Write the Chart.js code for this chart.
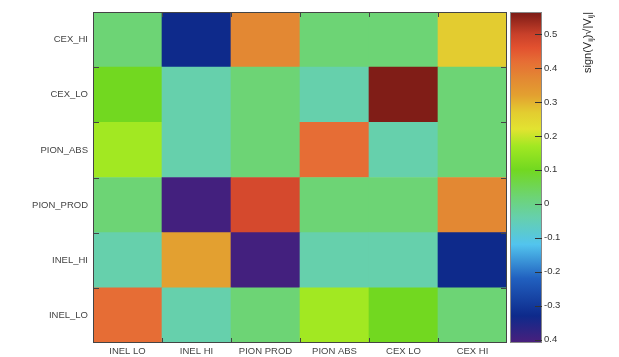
<!DOCTYPE html>
<html>
<head>
<meta charset="utf-8">
<script src="https://cdn.jsdelivr.net/npm/chart.js@4.4.1/dist/chart.umd.min.js"></script>
<style>
  html, body { margin: 0; padding: 0; background: #fff; }
  #wrap { width: 619px; height: 357px; }
</style>
</head>
<body>
<div id="wrap"><canvas id="matrix" width="619" height="357"></canvas></div>
<script>
// columns (x) and rows (y, bottom to top)
const xLabels = ["INEL LO", "INEL HI", "PION PROD", "PION ABS", "CEX LO", "CEX HI"];
const yLabels = ["INEL_LO", "INEL_HI", "PION_PROD", "PION_ABS", "CEX_LO", "CEX_HI"];

// cell values, one array per row
const rowInelLo   = [0.42, -0.04, 0.02, 0.17, 0.10, 0.02];
const rowInelHi   = [-0.04, 0.32, -0.40, -0.04, -0.04, -0.33];
const rowPionProd = [0.02, -0.40, 0.48, 0.02, 0.02, 0.37];
const rowPionAbs  = [0.17, -0.04, 0.02, 0.42, -0.04, 0.02];
const rowCexLo    = [0.10, -0.04, 0.02, -0.04, 0.56, 0.02];
const rowCexHi    = [0.02, -0.33, 0.37, 0.02, 0.02, 0.27];
const rows = [rowInelLo, rowInelHi, rowPionProd, rowPionAbs, rowCexLo, rowCexHi];

// colour bar
const zMin = -0.41, zMax = 0.565;
const zTicks = [0.5, 0.4, 0.3, 0.2, 0.1, 0, -0.1, -0.2, -0.3, -0.4];
const zTickLabels = ["0.5", "0.4", "0.3", "0.2", "0.1", "0", "-0.1", "-0.2", "-0.3", "0.4"];

// palette stops [value, colour]
const palette = [
    [-0.41, "#4a1f7c"], [-0.33, "#0e2a8b"], [-0.22, "#2160bf"], [-0.12, "#52c4ee"],
    [-0.04, "#66d0ac"], [0.02, "#6dd475"], [0.10, "#72d820"], [0.17, "#a2e822"],
    [0.22, "#e2e331"], [0.27, "#e3cc30"], [0.32, "#e3a030"], [0.37, "#e38833"],
    [0.42, "#e66d35"], [0.46, "#e2512f"], [0.50, "#c8402a"], [0.565, "#7a1a15"],
];

const labelFont = { size: 9.5, family: "'Liberation Sans', Arial" };

function hexRgb(h) {
    return [parseInt(h.slice(1, 3), 16), parseInt(h.slice(3, 5), 16), parseInt(h.slice(5, 7), 16)];
}

function colorFor(v) {
    if (v <= palette[0][0]) return palette[0][1];
    for (let i = 1; i < palette.length; i++) {
        if (v <= palette[i][0]) {
            const [v0, c0] = palette[i - 1], [v1, c1] = palette[i];
            const t = (v - v0) / (v1 - v0);
            const a = hexRgb(c0), b = hexRgb(c1);
            const m = a.map((x, k) => Math.round(x + (b[k] - x) * t));
            return `rgb(${m[0]},${m[1]},${m[2]})`;
        }
    }
    return palette[palette.length - 1][1];
}

// no extra label padding, so the plot fills the box set by afterFit
function noPad(s) {
    s.paddingTop = 0; s.paddingBottom = 0; s.paddingLeft = 0; s.paddingRight = 0;
}

// frame, tick marks, colour bar and its title
const decorPlugin = {
    id: "decor",
    afterDraw(chart) {
        const ctx = chart.ctx;
        const a = chart.chartArea;
        const x = chart.scales.x, y = chart.scales.y, z = chart.scales.z;
        ctx.save();
        ctx.strokeStyle = "#444";
        ctx.lineWidth = 1;
        ctx.strokeRect(a.left + 0.5, a.top + 0.5, a.right - a.left - 1, a.bottom - a.top - 1);

        ctx.beginPath();
        for (let i = 1; i < xLabels.length; i++) {
            const px = Math.round((x.getPixelForValue(i - 1) + x.getPixelForValue(i)) / 2) + 0.5;
            ctx.moveTo(px, a.bottom); ctx.lineTo(px, a.bottom - 5);
            ctx.moveTo(px, a.top); ctx.lineTo(px, a.top + 5);
        }
        for (let i = 1; i < yLabels.length; i++) {
            const py = Math.round(y.getPixelForValue(i)) + 0.5;
            ctx.moveTo(a.left, py); ctx.lineTo(a.left + 6, py);
            ctx.moveTo(a.right, py); ctx.lineTo(a.right - 6, py);
        }
        ctx.stroke();

        // colour bar
        const bx0 = a.right + 3, bx1 = a.right + 35;
        const top = z.getPixelForValue(zMax), bot = z.getPixelForValue(zMin);
        const grad = ctx.createLinearGradient(0, bot, 0, top);
        palette.forEach(([v, c]) => grad.addColorStop((v - zMin) / (zMax - zMin), c));
        ctx.fillStyle = grad;
        ctx.fillRect(bx0, top, bx1 - bx0, bot - top);
        ctx.strokeStyle = "#888";
        ctx.strokeRect(bx0 + 0.5, top + 0.5, bx1 - bx0 - 1, bot - top - 1);
        ctx.strokeStyle = "#333";
        ctx.beginPath();
        zTicks.forEach(v => {
            const py = Math.round(z.getPixelForValue(v)) + 0.5;
            ctx.moveTo(bx1, py); ctx.lineTo(bx1 - 7, py);
        });
        ctx.stroke();

        // title, rotated, ending at the top of the bar
        const parts = [["sign(V", false], ["ij", true], [")\u221A|V", false], ["ij", true], ["|", false]];
        const big = "11px 'Liberation Sans', Arial, sans-serif";
        const small = "8px 'Liberation Sans', Arial, sans-serif";
        let total = 0;
        parts.forEach(([t, sub]) => { ctx.font = sub ? small : big; total += ctx.measureText(t).width; });
        ctx.translate(588, top);
        ctx.rotate(-Math.PI / 2);
        ctx.fillStyle = "#222";
        ctx.textBaseline = "middle";
        let cx = -total;
        parts.forEach(([t, sub]) => {
            ctx.font = sub ? small : big;
            ctx.fillText(t, cx, sub ? 3 : 0);
            cx += ctx.measureText(t).width;
        });
        ctx.restore();
    }
};

new Chart(document.getElementById("matrix"), {
    type: "bar",
    data: {
        labels: xLabels,
        datasets: rows.map((r, i) => ({
            label: yLabels[i],
            data: r.map(() => 1),
            backgroundColor: r.map(colorFor),
            borderWidth: 0,
            barPercentage: 1,
            categoryPercentage: 1,
        })),
    },
    options: {
        responsive: false,
        animation: false,
        layout: { padding: { top: 12 } },
        plugins: { legend: { display: false }, tooltip: { enabled: false } },
        scales: {
            x: {
                stacked: true,
                grid: { display: false, drawTicks: false },
                border: { display: false },
                ticks: { color: "#444", font: labelFont, padding: 3, maxRotation: 0, autoSkip: false },
                afterFit(s) { s.height = 14; noPad(s); },
            },
            y: {
                stacked: true,
                min: 0,
                max: 6,
                grid: { display: false, drawTicks: false },
                border: { display: false },
                afterBuildTicks(s) { s.ticks = yLabels.map((_, i) => ({ value: i + 0.5 })); },
                ticks: {
                    color: "#444",
                    font: labelFont,
                    padding: 5,
                    callback: (v, i) => yLabels[i],
                },
                afterFit(s) { s.width = 93; noPad(s); },
            },
            z: {
                type: "linear",
                position: "right",
                min: zMin,
                max: zMax,
                grid: { display: false, drawTicks: false },
                border: { display: false },
                afterBuildTicks(s) { s.ticks = zTicks.map(v => ({ value: v })); },
                ticks: {
                    color: "#333",
                    font: { size: 9.5, family: "'Liberation Sans', Arial" },
                    padding: 37,
                    callback: (v, i) => zTickLabels[i],
                },
                afterFit(s) { s.width = 112; noPad(s); },
            },
        },
    },
    plugins: [decorPlugin],
});
</script>
</body>
</html>
